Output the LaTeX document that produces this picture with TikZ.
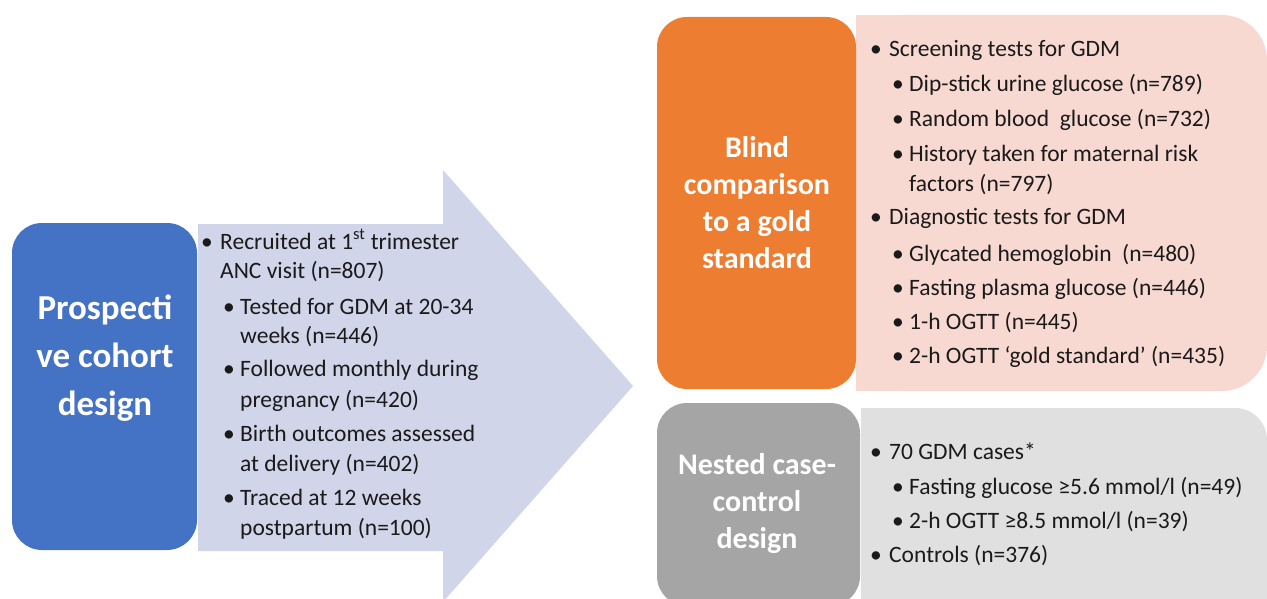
\documentclass[tikz,border=0pt]{standalone}
\usepackage{fontspec}
\setmainfont{Carlito}
\definecolor{cblue}{HTML}{4472C4}
\definecolor{corange}{HTML}{ED7D31}
\definecolor{cpink}{HTML}{F8D9D2}
\definecolor{carrow}{HTML}{D0D5EA}
\definecolor{cdgrey}{HTML}{A5A5A5}
\definecolor{clgrey}{HTML}{E0E0E0}
\definecolor{ctext}{HTML}{1A1A1A}
\tikzset{
  bigtitle/.style={align=center, text=white, inner sep=0pt,
    font=\bfseries\fontsize{35}{48}\selectfont},
  title/.style={align=center, text=white, inner sep=0pt,
    font=\bfseries\fontsize{30}{37}\selectfont},
  body/.style={anchor=base west, inner sep=0pt, text=ctext,
    font=\fontsize{23.5}{28}\selectfont},
}
% first-level bullet line: name, x, baseline y, text
\newcommand{\bline}[4]{\node[body] (#1) at (#2,#3) {\makebox[19pt][l]{\textbullet}#4};}
% second-level bullet line: name, x, baseline y, text
\newcommand{\sline}[4]{\node[body] (#1) at (#2,#3) {\makebox[17pt][l]{\textbullet}#4};}
% continuation line: name, x of text, baseline y, text
\newcommand{\contline}[4]{\node[body] (#1) at (#2,#3) {#4};}
\begin{document}
\begin{tikzpicture}[x=1pt,y=-1pt]
\useasboundingbox (0,0) rectangle (1267,599);
% cohort arrow
\fill[carrow] (198,224) -- (443,224) -- (443,170) -- (633,386) -- (443,602)
  -- (443,551) -- (198,551) -- cycle;
\fill[cblue, rounded corners=30pt] (12,223) rectangle (197,550);
\node[bigtitle] (cohort) at (105,358) {Prospecti\\ve cohort\\design};
% blind comparison
\fill[cpink, rounded corners=45pt] (856,15) -- (1267,15) -- (1267,391) -- (856,391) -- cycle;
\fill[cpink] (856,15) rectangle (920,391);
\fill[corange, rounded corners=30pt] (657,17) rectangle (856,389);
\node[title] (blind) at (757,203) {Blind\\comparison\\to a gold\\standard};
% nested case-control
\fill[clgrey, rounded corners=32pt] (861,408) -- (1267,408) -- (1267,630) -- (861,630) -- cycle;
\fill[clgrey] (861,408) rectangle (920,630);
\fill[cdgrey, rounded corners=30pt] (657,403) rectangle (860,606);
\node[title] (nested) at (757,504) {Nested case-\\control\\design};
% cohort items
\bline{c1}{201}{249}{Recruited at 1\textsuperscript{st} trimester}
\contline{c1b}{220}{278}{ANC visit (n=807)}
\sline{c2}{223}{314}{Tested for GDM at 20-34}
\contline{c2b}{240}{343}{weeks (n=446)}
\sline{c3}{223}{376}{Followed monthly during}
\contline{c3b}{240}{407}{pregnancy (n=420)}
\sline{c4}{223}{441}{Birth outcomes assessed}
\contline{c4b}{240}{471}{at delivery (n=402)}
\sline{c5}{223}{505}{Traced at 12 weeks}
\contline{c5b}{240}{535}{postpartum (n=100)}
% comparison items
\bline{s1}{870}{57}{Screening tests for GDM}
\sline{s2}{892}{92}{Dip-stick urine glucose (n=789)}
\sline{s3}{892}{127}{Random blood\ \ glucose (n=732)}
\sline{s4}{892}{162}{History taken for maternal risk}
\contline{s4b}{909}{191}{factors (n=797)}
\bline{d1}{870}{225}{Diagnostic tests for GDM}
\sline{d2}{892}{261}{Glycated hemoglobin\ \ (n=480)}
\sline{d3}{892}{295}{Fasting plasma glucose (n=446)}
\sline{d4}{892}{329}{1-h OGTT (n=445)}
\sline{d5}{892}{363}{2-h OGTT ‘gold standard’ (n=435)}
% case-control items
\bline{n1}{870}{459}{70 GDM cases*}
\sline{n2}{892}{494}{Fasting glucose ≥5.6 mmol/l (n=49)}
\sline{n3}{892}{528}{2-h OGTT ≥8.5 mmol/l (n=39)}
\bline{n4}{870}{562}{Controls (n=376)}
\end{tikzpicture}
\end{document}
